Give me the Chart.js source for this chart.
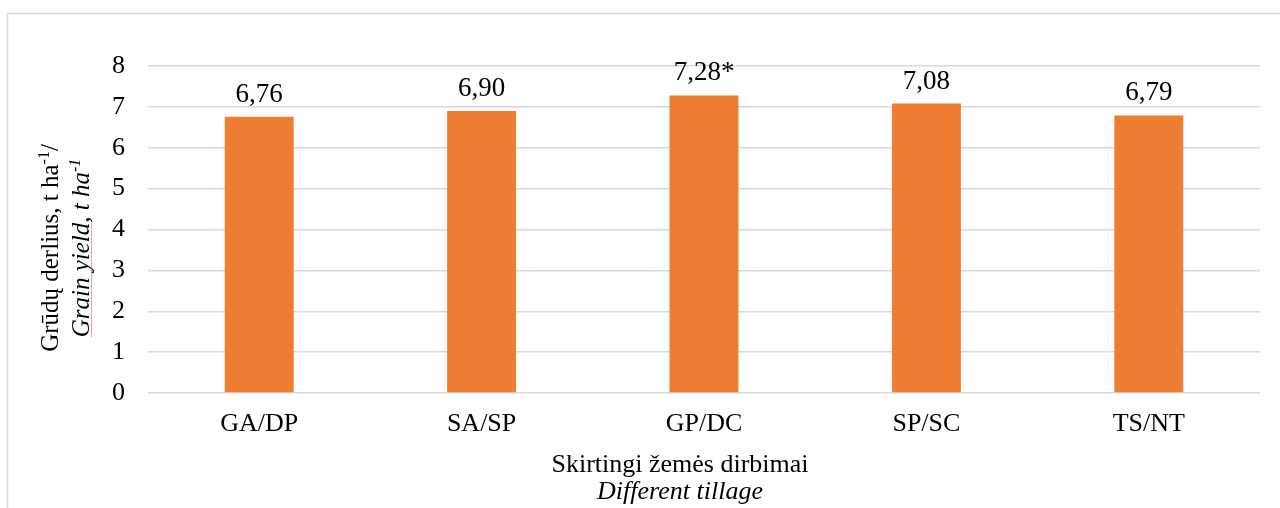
<!DOCTYPE html>
<html>
<head>
<meta charset="utf-8">
<script src="https://cdn.jsdelivr.net/npm/chart.js@4.4.1/dist/chart.umd.min.js"></script>
<style>
  html, body { margin: 0; padding: 0; background: #fff; }
  #wrap { width: 1280px; height: 508px; position: relative; }
</style>
</head>
<body>
<div id="wrap"><canvas id="chart" width="1280" height="508"></canvas></div>
<script>
// ---------------------------------------------------------------------
// Data
// ---------------------------------------------------------------------
const categories = ["GA/DP", "SA/SP", "GP/DC", "SP/SC", "TS/NT"];
const yieldValues = [6.76, 6.90, 7.28, 7.08, 6.79];
const valueLabels = ["6,76", "6,90", "7,28*", "7,08", "6,79"];
const yTicks = [0, 1, 2, 3, 4, 5, 6, 7, 8];

const SERIF = "'Liberation Serif', 'Times New Roman', serif";
const BAR_COLOR = "#ED7D31";
const GRID_COLOR = "#D9D9D9";

// ---------------------------------------------------------------------
// Plugin: outer frame, bar value labels, axis titles (with superscripts)
// ---------------------------------------------------------------------
function partFont(p, size) {
  const fs = p.sup ? Math.round(size * 0.62) : size;
  return `${p.italic ? "italic " : ""}${fs}px ${SERIF}`;
}

function measureParts(ctx, parts, size) {
  let w = 0;
  parts.forEach((p) => {
    ctx.font = partFont(p, size);
    w += ctx.measureText(p.text).width;
  });
  return w;
}

// draws text runs left-to-right from x on baseline y, returns x span of each run
function drawParts(ctx, parts, x, y, size) {
  let cx = x;
  const spans = [];
  parts.forEach((p) => {
    ctx.font = partFont(p, size);
    ctx.fillText(p.text, cx, p.sup ? y - size * 0.36 : y);
    const w = ctx.measureText(p.text).width;
    spans.push([cx, cx + w]);
    cx += w;
  });
  return spans;
}

const decorPlugin = {
  id: "decor",
  beforeDraw(chart) {
    const ctx = chart.ctx;
    ctx.save();
    ctx.fillStyle = "#fff";
    ctx.fillRect(0, 0, chart.width, chart.height);
    ctx.strokeStyle = GRID_COLOR;
    ctx.lineWidth = 1.5;
    ctx.strokeRect(7.5, 13.5, 1400, 600);
    ctx.restore();
  },
  afterDatasetsDraw(chart) {
    const ctx = chart.ctx;
    const meta = chart.getDatasetMeta(0);
    ctx.save();
    ctx.fillStyle = "#000";
    ctx.font = `27px ${SERIF}`;
    ctx.textAlign = "center";
    ctx.textBaseline = "alphabetic";
    meta.data.forEach((bar, i) => {
      ctx.fillText(valueLabels[i], bar.x, bar.y - 15);
    });

    // x axis title
    const area = chart.chartArea;
    const midX = (area.left + area.right) / 2 - 24;
    ctx.font = `26px ${SERIF}`;
    ctx.fillText("Skirtingi žemės dirbimai", midX, 472);
    ctx.font = `italic 26px ${SERIF}`;
    ctx.fillText("Different tillage", midX, 499);

    // y axis title, rotated
    const size = 25;
    const line1 = [
      { text: "Grūdų derlius, t ha" },
      { text: "-1", sup: true },
      { text: "/" }
    ];
    const line2 = [
      { text: "Grain yield", italic: true },
      { text: ", t ha", italic: true },
      { text: "-1", sup: true, italic: true }
    ];
    const cy = 248;
    ctx.textAlign = "left";

    ctx.save();
    ctx.translate(58, cy);
    ctx.rotate(-Math.PI / 2);
    const w1 = measureParts(ctx, line1, size);
    drawParts(ctx, line1, -w1 / 2, 0, size);
    ctx.restore();

    ctx.save();
    ctx.translate(89, cy);
    ctx.rotate(-Math.PI / 2);
    const w2 = measureParts(ctx, line2, size);
    const spans = drawParts(ctx, line2, -w2 / 2, 0, size);
    // faint spell-check underline under "Grain yield"
    ctx.strokeStyle = "rgba(230,90,90,0.55)";
    ctx.lineWidth = 1;
    ctx.beginPath();
    ctx.moveTo(spans[0][0], 2.5);
    ctx.lineTo(spans[0][1], 2.5);
    ctx.stroke();
    ctx.restore();

    ctx.restore();
  }
};

// ---------------------------------------------------------------------
// Chart
// ---------------------------------------------------------------------
const ctx = document.getElementById("chart").getContext("2d");
new Chart(ctx, {
  type: "bar",
  data: {
    labels: categories,
    datasets: [{
      data: yieldValues,
      backgroundColor: BAR_COLOR,
      borderWidth: 0,
      barPercentage: 0.31,
      categoryPercentage: 1
    }]
  },
  options: {
    responsive: false,
    animation: false,
    layout: { padding: { top: 66, right: 20, left: 0, bottom: 0 } },
    plugins: {
      legend: { display: false },
      tooltip: { enabled: false }
    },
    scales: {
      x: {
        grid: { display: false, drawTicks: false },
        border: { display: false },
        ticks: {
          color: "#000",
          font: { family: SERIF, size: 26 },
          padding: 16
        },
        afterFit(scale) { scale.height = 115; }
      },
      y: {
        min: 0,
        max: 8,
        afterBuildTicks(scale) { scale.ticks = yTicks.map((v) => ({ value: v })); },
        grid: { color: GRID_COLOR, lineWidth: 1.5, drawTicks: false },
        border: { display: false },
        ticks: {
          color: "#000",
          font: { family: SERIF, size: 26 },
          padding: 23
        },
        afterFit(scale) { scale.width = 148; }
      }
    }
  },
  plugins: [decorPlugin]
});
</script>
</body>
</html>
